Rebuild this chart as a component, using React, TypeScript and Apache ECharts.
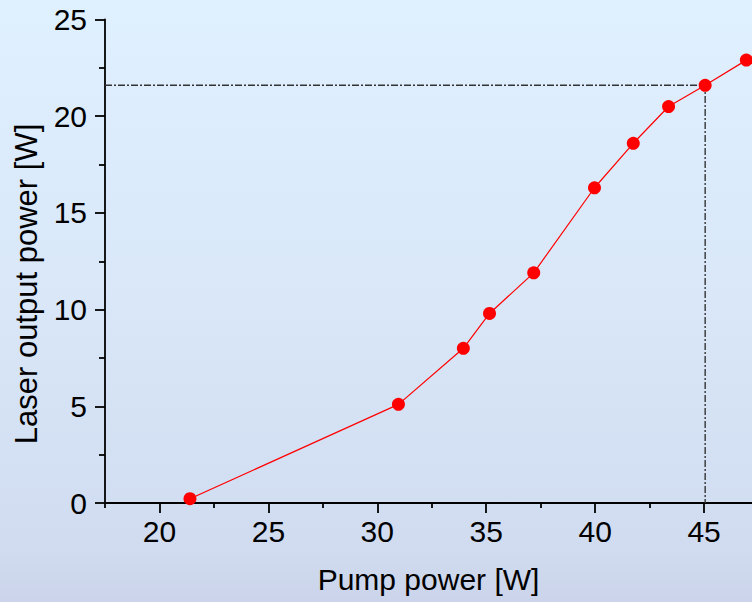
import React, { useEffect, useRef } from "react";
import * as echarts from "echarts";

const pumpPower = [21.4, 30.97, 33.95, 35.15, 37.18, 39.97, 41.75, 43.37, 45.05, 46.94];
const outputPower = [0.22, 5.1, 8.0, 9.8, 11.9, 16.3, 18.6, 20.5, 21.6, 22.9];
const xMajorTicks = [20, 25, 30, 35, 40, 45];
const xMinorTicks = [17.5, 22.5, 27.5, 32.5, 37.5, 42.5];
const markerPump = 45.05;
const markerOutput = 21.6;
const xName = "Pump power [W]";
const yName = "Laser output power [W]";

const FONT = "'Liberation Sans', Arial, Helvetica, sans-serif";

export default function App() {
  const ref = useRef<HTMLDivElement>(null);
  useEffect(() => {
    if (!ref.current) return;
    const chart = echarts.init(ref.current, null, { renderer: "svg" });
    const xMin = 17.5;
    const xMax = 47.2;
    chart.setOption({
      animation: false,
      backgroundColor: new echarts.graphic.LinearGradient(0, 0, 0, 1, [
        { offset: 0, color: "#dff0ff" },
        { offset: 0.5, color: "#d9e7f8" },
        { offset: 0.92, color: "#d0dbef" },
        { offset: 1, color: "#cbd4ea" },
      ]),
      grid: { left: 105, right: 0, top: 19.5, bottom: 99, containLabel: false },
      graphic: [
        {
          type: "text",
          x: 26,
          y: 284,
          rotation: Math.PI / 2,
          style: {
            text: yName,
            fontFamily: FONT,
            fontSize: 31,
            fill: "#000",
            align: "center",
            verticalAlign: "middle",
          },
        },
      ],
      xAxis: [
        {
          type: "value",
          min: xMin,
          max: xMax,
          name: xName,
          nameLocation: "middle",
          nameGap: 61,
          nameTextStyle: { fontFamily: FONT, fontSize: 30, color: "#000" },
          axisLine: { show: true, onZero: false, lineStyle: { color: "#000", width: 1.8 } },
          axisTick: { show: true, length: 10, customValues: xMajorTicks, lineStyle: { color: "#000", width: 1.8 } },
          axisLabel: { customValues: xMajorTicks, margin: 13, fontFamily: FONT, fontSize: 30, color: "#000" },
          splitLine: { show: false },
        },
        {
          type: "value",
          min: xMin,
          max: xMax,
          position: "bottom",
          axisLine: { show: false },
          axisTick: { show: true, length: 5, customValues: xMinorTicks, lineStyle: { color: "#000", width: 1.8 } },
          axisLabel: { show: false },
          splitLine: { show: false },
        },
      ],
      yAxis: {
        type: "value",
        min: 0,
        max: 25,
        interval: 5,
        axisLine: { show: true, onZero: false, lineStyle: { color: "#000", width: 1.8 } },
        axisTick: { show: true, length: 10, lineStyle: { color: "#000", width: 1.8 } },
        minorTick: { show: true, splitNumber: 2, length: 6, lineStyle: { color: "#000", width: 1.8 } },
        axisLabel: { margin: 18, fontFamily: FONT, fontSize: 30, color: "#000" },
        splitLine: { show: false },
      },
      series: [
        {
          type: "line",
          data: [
            [xMin, markerOutput],
            [markerPump, markerOutput],
            [markerPump, 0],
          ],
          symbol: "none",
          lineStyle: { color: "#333", width: 1.4, type: [7, 2, 2, 2] },
          z: 1,
        },
        {
          type: "line",
          data: pumpPower.map((p, i) => [p, outputPower[i]]),
          symbol: "circle",
          symbolSize: 13,
          itemStyle: { color: "#ff0000" },
          lineStyle: { color: "#ff0000", width: 1.2 },
          clip: false,
          z: 2,
        },
      ],
    });
    return () => chart.dispose();
  }, []);
  return (
    <div
      ref={ref}
      style={{ position: "absolute", left: 0, top: 0, width: 752, height: 602 }}
    />
  );
}
